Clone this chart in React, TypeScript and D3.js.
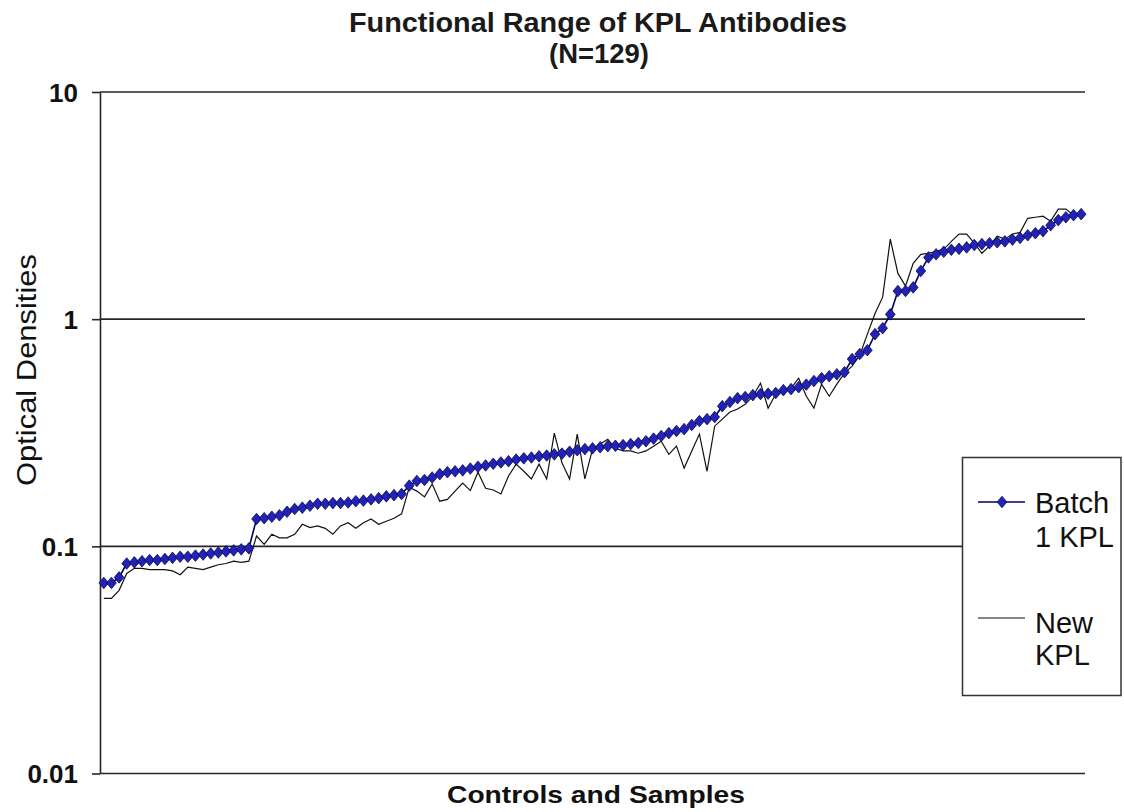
import { useEffect, useRef } from 'react'
import * as d3 from 'd3'

// Optical densities, 129 controls and samples (sorted by Batch 1)
const batch1 = [
  0.069, 0.069, 0.073, 0.084, 0.085, 0.086, 0.087, 0.087, 0.088, 0.089,
  0.090, 0.090, 0.091, 0.092, 0.093, 0.094, 0.095, 0.096, 0.097, 0.098,
  0.132, 0.133, 0.135, 0.137, 0.142, 0.146, 0.148, 0.151, 0.154, 0.154,
  0.155, 0.155, 0.156, 0.158, 0.159, 0.161, 0.163, 0.166, 0.168, 0.170,
  0.185, 0.194, 0.196, 0.201, 0.208, 0.212, 0.214, 0.216, 0.220, 0.224,
  0.227, 0.231, 0.234, 0.237, 0.241, 0.244, 0.246, 0.249, 0.251, 0.254,
  0.256, 0.261, 0.265, 0.268, 0.270, 0.273, 0.276, 0.277, 0.279, 0.282,
  0.285, 0.290, 0.298, 0.306, 0.315, 0.322, 0.328, 0.342, 0.356, 0.363,
  0.371, 0.414, 0.432, 0.449, 0.454, 0.463, 0.468, 0.470, 0.473, 0.487,
  0.492, 0.502, 0.515, 0.534, 0.550, 0.561, 0.572, 0.584, 0.667, 0.702,
  0.730, 0.859, 0.912, 1.05, 1.33, 1.33, 1.38, 1.63, 1.87, 1.93,
  1.98, 2.02, 2.04, 2.07, 2.12, 2.14, 2.16, 2.18, 2.20, 2.24,
  2.28, 2.34, 2.39, 2.44, 2.59, 2.73, 2.81, 2.87, 2.90,
]

const newKpl = [
  0.059, 0.059, 0.064, 0.076, 0.080, 0.080, 0.079, 0.079, 0.079, 0.078,
  0.075, 0.081, 0.080, 0.079, 0.081, 0.083, 0.084, 0.086, 0.085, 0.086,
  0.111, 0.102, 0.113, 0.109, 0.109, 0.113, 0.125, 0.121, 0.123, 0.120,
  0.113, 0.123, 0.127, 0.120, 0.127, 0.132, 0.125, 0.129, 0.133, 0.139,
  0.182, 0.175, 0.165, 0.188, 0.158, 0.161, 0.175, 0.190, 0.176, 0.212,
  0.180, 0.177, 0.170, 0.204, 0.230, 0.214, 0.198, 0.230, 0.198, 0.315,
  0.233, 0.198, 0.312, 0.198, 0.268, 0.282, 0.296, 0.270, 0.263, 0.263,
  0.257, 0.263, 0.276, 0.290, 0.254, 0.276, 0.221, 0.263, 0.312, 0.214,
  0.338, 0.363, 0.390, 0.402, 0.422, 0.458, 0.523, 0.406, 0.468, 0.487,
  0.497, 0.550, 0.458, 0.406, 0.518, 0.458, 0.518, 0.579, 0.621, 0.694,
  0.859, 1.06, 1.25, 2.25, 1.59, 1.40, 1.76, 1.93, 1.95, 1.99,
  2.03, 2.20, 2.37, 2.37, 2.16, 1.95, 2.10, 2.32, 2.25, 2.37,
  2.41, 2.78, 2.81, 2.84, 2.70, 3.05, 3.05, 2.87, 2.90,
]

const yTicks = [0.01, 0.1, 1, 10]
const yTickLabels = ['0.01', '0.1', '1', '10']

const font = "'Liberation Sans', Arial, Helvetica, sans-serif"

export default function App() {
  const ref = useRef<SVGSVGElement | null>(null)

  useEffect(() => {
    const svg = d3.select(ref.current)
    svg.selectAll('*').remove()

    const left = 100
    const right = 1085
    const top = 92
    const bottom = 773.5

    const x = d3
      .scaleBand<number>()
      .domain(d3.range(batch1.length))
      .range([left, right])
    const cx = (i: number) => x(i)! + x.bandwidth() / 2

    const y = d3.scaleLog().domain([0.01, 10]).range([bottom, top])

    // gridlines
    svg
      .append('g')
      .selectAll('line')
      .data(yTicks)
      .join('line')
      .attr('x1', left)
      .attr('x2', right)
      .attr('y1', (d) => y(d))
      .attr('y2', (d) => y(d))
      .attr('stroke', '#262626')
      .attr('stroke-width', 1.6)

    // y axis
    const yAxis = svg
      .append('g')
      .attr('transform', `translate(${left},0)`)
      .call(
        d3
          .axisLeft(y)
          .tickValues(yTicks)
          .tickSize(8)
          .tickSizeOuter(0)
          .tickPadding(14)
          .tickFormat((d, i) => yTickLabels[i]),
      )
    yAxis.select('.domain').attr('stroke', '#262626').attr('stroke-width', 1.6)
    yAxis.selectAll('.tick line').attr('stroke', '#262626').attr('stroke-width', 1.6)
    yAxis
      .selectAll('.tick text')
      .attr('font-family', font)
      .attr('font-size', 26)
      .attr('font-weight', 'bold')
      .attr('fill', '#111')
      .attr('dy', '0.36em')

    // New KPL
    const line = d3
      .line<number>()
      .x((d, i) => cx(i))
      .y((d) => y(d))

    svg
      .append('path')
      .datum(newKpl)
      .attr('d', line)
      .attr('fill', 'none')
      .attr('stroke', '#111')
      .attr('stroke-width', 1.2)

    // Batch 1 KPL
    svg
      .append('path')
      .datum(batch1)
      .attr('d', line)
      .attr('fill', 'none')
      .attr('stroke', '#000060')
      .attr('stroke-width', 1.6)

    const diamond = 'M0,-5.8L4.9,0L0,5.8L-4.9,0Z'
    svg
      .append('g')
      .selectAll('path')
      .data(batch1)
      .join('path')
      .attr('transform', (d, i) => `translate(${cx(i)},${y(d)})`)
      .attr('d', diamond)
      .attr('fill', '#2222b8')
      .attr('stroke', '#00003c')
      .attr('stroke-width', 0.7)

    // titles
    svg
      .append('text')
      .attr('x', 598)
      .attr('y', 32)
      .attr('text-anchor', 'middle')
      .attr('font-family', font)
      .attr('font-size', 27)
      .attr('font-weight', 'bold')
      .attr('textLength', 498)
      .attr('lengthAdjust', 'spacingAndGlyphs')
      .attr('fill', '#1a1a1a')
      .text('Functional Range of KPL Antibodies')
    svg
      .append('text')
      .attr('x', 599)
      .attr('y', 63)
      .attr('text-anchor', 'middle')
      .attr('font-family', font)
      .attr('font-size', 27)
      .attr('font-weight', 'bold')
      .attr('textLength', 100)
      .attr('lengthAdjust', 'spacingAndGlyphs')
      .attr('fill', '#1a1a1a')
      .text('(N=129)')

    svg
      .append('text')
      .attr('transform', 'translate(36,370) rotate(-90)')
      .attr('text-anchor', 'middle')
      .attr('font-family', font)
      .attr('font-size', 27)
      .attr('textLength', 232)
      .attr('lengthAdjust', 'spacingAndGlyphs')
      .attr('fill', '#111')
      .text('Optical Densities')

    svg
      .append('text')
      .attr('x', 596)
      .attr('y', 803)
      .attr('text-anchor', 'middle')
      .attr('font-family', font)
      .attr('font-size', 24)
      .attr('font-weight', 'bold')
      .attr('textLength', 298)
      .attr('lengthAdjust', 'spacingAndGlyphs')
      .attr('fill', '#111')
      .text('Controls and Samples')

    // legend
    const legend = svg.append('g')
    legend
      .append('rect')
      .attr('x', 962.5)
      .attr('y', 457.5)
      .attr('width', 158.5)
      .attr('height', 238)
      .attr('fill', '#fff')
      .attr('stroke', '#333')
      .attr('stroke-width', 1.5)

    legend
      .append('line')
      .attr('x1', 978)
      .attr('x2', 1025)
      .attr('y1', 502)
      .attr('y2', 502)
      .attr('stroke', '#000060')
      .attr('stroke-width', 1.6)
    legend
      .append('path')
      .attr('transform', 'translate(1002,502)')
      .attr('d', diamond)
      .attr('fill', '#2222b8')
      .attr('stroke', '#00003c')
      .attr('stroke-width', 0.7)
    legend
      .append('line')
      .attr('x1', 978)
      .attr('x2', 1025)
      .attr('y1', 618)
      .attr('y2', 618)
      .attr('stroke', '#111')
      .attr('stroke-width', 1.2)

    const labels = [
      { t: 'Batch', y: 513 },
      { t: '1 KPL', y: 547 },
      { t: 'New', y: 633 },
      { t: 'KPL', y: 665 },
    ]
    legend
      .selectAll('text')
      .data(labels)
      .join('text')
      .attr('x', 1035)
      .attr('y', (d) => d.y)
      .attr('font-family', font)
      .attr('font-size', 29)
      .attr('fill', '#111')
      .text((d) => d.t)
  }, [])

  return <svg width={1124} height={812} ref={ref} style={{ display: 'block', position: 'absolute', left: 0, top: 0, background: '#fff' }} />
}
